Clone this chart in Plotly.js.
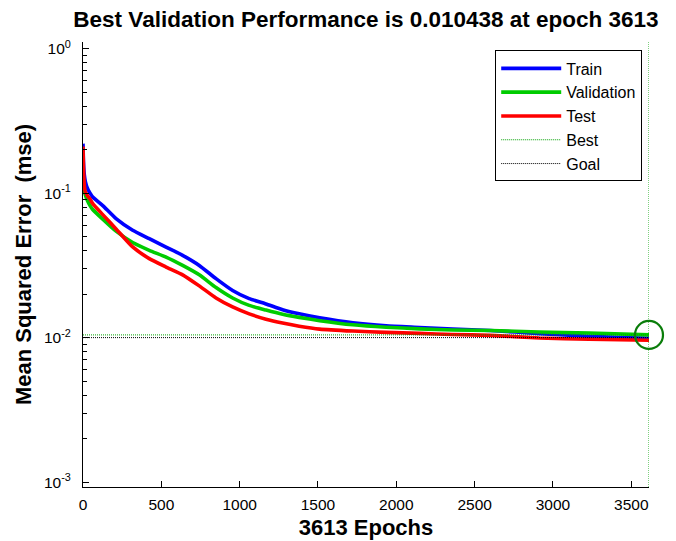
<!DOCTYPE html>
<html>
<head>
<meta charset="utf-8">
<script src="https://cdn.plot.ly/plotly-3.0.1.min.js"></script>
<style>
  html, body { margin: 0; padding: 0; background: #fff; }
  #chart { width: 676px; height: 541px; }
</style>
</head>
<body>
<div id="chart"></div>
<script>
// ---- data ----
const epochs    = [0, 3, 8, 15, 28, 45, 62, 126, 211, 317, 423, 530, 636, 742, 849, 955, 1061, 1168, 1274, 1380, 1511, 1723, 1935, 2148, 2360, 2600, 2913, 3231, 3613];
const trainPerf = [0.22, 0.165, 0.135, 0.12, 0.108, 0.100, 0.094, 0.082, 0.0666, 0.0553, 0.0484, 0.0423, 0.0371, 0.0316, 0.0256, 0.0212, 0.0186, 0.0171, 0.0156, 0.0146, 0.0137, 0.01264, 0.01205, 0.01175, 0.01145, 0.0112, 0.01066, 0.0102, 0.0099];
const valPerf   = [0.135, 0.118, 0.106, 0.097, 0.089, 0.082, 0.077, 0.066, 0.0545, 0.0455, 0.0402, 0.0361, 0.0316, 0.0272, 0.0222, 0.0188, 0.0167, 0.0155, 0.0145, 0.0138, 0.0131, 0.01226, 0.0118, 0.0115, 0.0113, 0.0112, 0.01093, 0.01076, 0.010438];
const testPerf  = [0.21, 0.15, 0.115, 0.102, 0.096, 0.091, 0.0846, 0.071, 0.0565, 0.0424, 0.0352, 0.0308, 0.0272, 0.0228, 0.0188, 0.0163, 0.0146, 0.0134, 0.0126, 0.0120, 0.01145, 0.0111, 0.01087, 0.0107, 0.0105, 0.01037, 0.00994, 0.00973, 0.00958];

const bestEpoch = 3613;
const bestPerf = 0.010438;
const goalPerf = 0.01;
const maxEpoch = 3613;
const yLimits = [0.000925, 1.111];

const yTickKeys = ['0.001', '0.01', '0.1', '1'];
const yTickText = ['10<sup>-3</sup>', '10<sup>-2</sup>', '10<sup>-1</sup>', '10<sup>0</sup>'];
const yDecades = [0.001, 0.01, 0.1];
const minorDigits = [2, 3, 4, 5, 6, 7, 8, 9];

const titleText = 'Best Validation Performance is ' + bestPerf + ' at epoch ' + bestEpoch;
const xTitle = bestEpoch + ' Epochs';
const yTitle = 'Mean Squared Error&nbsp;&nbsp;(mse)';

// ---- figure ----
const FONT = 'Liberation Sans, Arial, Helvetica, sans-serif';
const LW = 3.6;
const alias = {};
yTickKeys.forEach((k, i) => { alias[k] = yTickText[i]; });
const minorVals = [];
yDecades.forEach(d => minorDigits.forEach(k => minorVals.push(k * d)));

const curveLine = (c) => ({ color: c, width: LW, shape: 'spline', smoothing: 0.5 });
const BEST_GREEN = '#00a000';

const traces = [
  { x: epochs, y: trainPerf, name: 'Train', mode: 'lines', line: curveLine('#0000ff') },
  { x: epochs, y: valPerf, name: 'Validation', mode: 'lines', line: curveLine('#00cc00') },
  { x: epochs, y: testPerf, name: 'Test', mode: 'lines', line: curveLine('#ff0000') },
  { x: [0, maxEpoch], y: [bestPerf, bestPerf], name: 'Best', mode: 'lines',
    line: { color: BEST_GREEN, width: 1, dash: '1px,1px' } },
  { x: [0, maxEpoch], y: [goalPerf, goalPerf], name: 'Goal', mode: 'lines',
    line: { color: '#000000', width: 1, dash: '1px,1px' } },
  { x: [bestEpoch, bestEpoch], y: yLimits, mode: 'lines', showlegend: false,
    line: { color: BEST_GREEN, width: 1, dash: '1px,1px' } },
  { x: [bestEpoch], y: [bestPerf], mode: 'markers', showlegend: false, cliponaxis: false,
    marker: { symbol: 'circle-open', size: 28, color: '#0a7d0a', line: { width: 2.2, color: '#0a7d0a' } } },
  // empty trace that only registers the overlay axis carrying the minor log ticks
  { x: [], y: [], yaxis: 'y2', mode: 'lines', showlegend: false, hoverinfo: 'skip' }
];

const yRange = [Math.log10(yLimits[0]), Math.log10(yLimits[1])];

const layout = {
  width: 676, height: 541,
  margin: { l: 83, r: 26.5, t: 41.7, b: 54.3, pad: 0 },
  paper_bgcolor: '#ffffff', plot_bgcolor: '#ffffff',
  font: { family: FONT, color: '#000', size: 15.5 },
  showlegend: true,
  title: {
    text: '<b>' + titleText + '</b>',
    font: { family: FONT, size: 22.5, color: '#000' },
    x: 0.5, xref: 'paper', xanchor: 'center',
    y: 1 - 19.5 / 541, yref: 'container', yanchor: 'middle'
  },
  xaxis: {
    range: [0, maxEpoch],
    tickmode: 'linear', tick0: 0, dtick: 500,
    ticks: 'inside', ticklen: 6, tickwidth: 1, tickcolor: '#000',
    showline: true, linecolor: '#000', linewidth: 1, mirror: false,
    showgrid: false, zeroline: false,
    tickfont: { family: FONT, size: 15.5, color: '#000' },
    ticklabelstandoff: 3,
    title: { text: '<b>' + xTitle + '</b>', font: { family: FONT, size: 22, color: '#000' }, standoff: 8 }
  },
  yaxis: {
    type: 'log',
    range: yRange,
    tickmode: 'linear', tick0: 0, dtick: 1,
    labelalias: alias,
    ticks: 'inside', ticklen: 6, tickwidth: 1, tickcolor: '#000',
    showline: true, linecolor: '#000', linewidth: 1, mirror: false,
    showgrid: false, zeroline: false,
    tickfont: { family: FONT, size: 15.5, color: '#000' },
    ticklabelstandoff: 8,
    title: { text: '<b>' + yTitle + '</b>', font: { family: FONT, size: 22, color: '#000' }, standoff: 6 }
  },
  yaxis2: {
    type: 'log', overlaying: 'y', anchor: 'x', side: 'left',
    range: yRange,
    tickmode: 'array', tickvals: minorVals,
    ticks: 'inside', ticklen: 4, tickwidth: 1, tickcolor: '#000',
    showticklabels: false, showline: false, showgrid: false, zeroline: false
  },
  legend: {
    x: 0.988, xanchor: 'right', y: 0.981, yanchor: 'top',
    bgcolor: '#ffffff', bordercolor: '#000', borderwidth: 1,
    font: { family: FONT, size: 16, color: '#000' },
    itemwidth: 60, tracegroupgap: 0
  }
};

Plotly.newPlot('chart', traces, layout, { displayModeBar: false, staticPlot: true });
</script>
</body>
</html>
